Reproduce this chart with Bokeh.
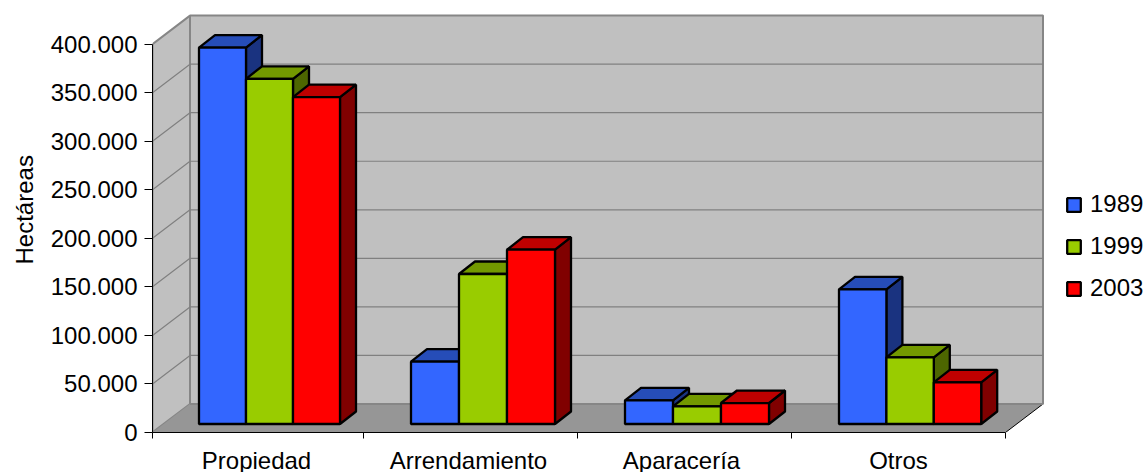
from bokeh.plotting import figure
from bokeh.embed import file_html
from bokeh.resources import INLINE
from bokeh.models import Range1d, FixedTicker, Legend, LegendItem, Title

categories = ["Propiedad", "Arrendamiento", "Aparacería", "Otros"]
series_names = ["1989", "1999", "2003"]
v1989 = [387700, 64200, 24400, 138700]
v1999 = [355500, 154500, 18200, 68700]
v2003 = [336600, 179500, 21600, 42900]
y_ticks = [0, 50000, 100000, 150000, 200000, 250000, 300000, 350000, 400000]
y_tick_labels = ["0", "50.000", "100.000", "150.000", "200.000", "250.000", "300.000", "350.000", "400.000"]

front_colors = ["#3366ff", "#99cc00", "#ff0000"]
top_colors = ["#264db8", "#739900", "#bf0000"]
side_colors = ["#1a3380", "#4d6600", "#800000"]

PX_X = 1 / 214.0
PX_Y = 400000 / 388.4
X_START = 3 * PX_X
FW, FH = 991, 420

x_end = X_START + FW * PX_X
y_end = FH * PX_Y
wall_dx, wall_dy = 37.5 * PX_X, 28.5 * PX_Y
front_right = 4.0
bar_dx, bar_dy = 16 * PX_X, 12.5 * PX_Y
base_y = 8.5 * PX_Y
group_off = [49.5 * PX_X, 47.5 * PX_X, 47.5 * PX_X, 47.5 * PX_X]
group_w = [47 * PX_X, 48 * PX_X, 48 * PX_X, 47.4 * PX_X]
label_nudge = [0, -2 * PX_X, -3 * PX_X, 0]
y_top = y_ticks[-1]

p = figure(width=1143, height=472, output_backend="svg", toolbar_location=None,
           x_range=Range1d(X_START, x_end), y_range=Range1d(0, y_end),
           frame_width=FW, frame_height=FH,
           min_border_left=152, min_border_right=0, min_border_top=12, min_border_bottom=40,
           outline_line_color=None, background_fill_color=None)
p.grid.visible = False

# walls and floor
wall_line = "#868686"
p.patch([X_START + wall_dx, front_right + wall_dx, front_right + wall_dx, X_START + wall_dx],
        [wall_dy, wall_dy, y_top + wall_dy, y_top + wall_dy],
        fill_color="#c0c0c0", line_color=wall_line, line_width=2)
p.patch([X_START, X_START + wall_dx, X_START + wall_dx, X_START],
        [0, wall_dy, y_top + wall_dy, y_top],
        fill_color="#c0c0c0", line_color=wall_line, line_width=2)
p.patch([X_START, front_right, front_right + wall_dx, X_START + wall_dx],
        [0, 0, wall_dy, wall_dy],
        fill_color="#969696", line_color=None)
p.line([front_right, front_right + wall_dx], [0, wall_dy], line_color="black", line_width=1)
p.line([X_START + wall_dx, front_right + wall_dx], [wall_dy, wall_dy], line_color=wall_line, line_width=2)

# gridlines on the walls
gx = [[X_START, X_START + wall_dx, front_right + wall_dx] for t in y_ticks[1:-1]]
gy = [[t, t + wall_dy, t + wall_dy] for t in y_ticks[1:-1]]
p.multi_line(gx, gy, line_color="#808080", line_width=1.2)

# bars
BAR_LW = 2.3
items = []
for s, vals in enumerate([v1989, v1999, v2003]):
    lefts = [i + group_off[i] + s * group_w[i] for i in range(len(vals))]
    rights = [l + group_w[i] for i, l in enumerate(lefts)]
    tops = [base_y + v for v in vals]
    bottoms = [base_y] * len(vals)
    side_x = [[r, r + bar_dx, r + bar_dx, r] for r in rights]
    side_y = [[base_y, base_y + bar_dy, t + bar_dy, t] for t in tops]
    top_x = [[l, l + bar_dx, r + bar_dx, r] for l, r in zip(lefts, rights)]
    top_y = [[t, t + bar_dy, t + bar_dy, t] for t in tops]
    p.patches(side_x, side_y, fill_color=side_colors[s], line_color="black", line_width=BAR_LW)
    p.patches(top_x, top_y, fill_color=top_colors[s], line_color="black", line_width=BAR_LW)
    r = p.quad(left=lefts, right=rights, bottom=bottoms, top=tops,
               fill_color=front_colors[s], line_color="black", line_width=BAR_LW)
    items.append(LegendItem(label=series_names[s], renderers=[r]))

# axes
FONT = "Liberation Sans"
SIZE = "24px"
ya = p.yaxis[0]
ya.ticker = FixedTicker(ticks=y_ticks)
ya.major_label_overrides = dict(zip(y_ticks, y_tick_labels))
ya.bounds = (0, y_top)
ya.major_tick_in = 0
ya.major_tick_out = 8
ya.minor_tick_line_color = None
ya.axis_line_color = "black"
ya.major_label_text_font = FONT
ya.major_label_text_font_size = SIZE
ya.major_label_text_color = "black"
ya.major_label_standoff = 7

p.add_layout(Title(text="Hectáreas", align="left", vertical_align="middle", offset=168, standoff=17,
                   text_font=FONT, text_font_size=SIZE, text_font_style="normal",
                   text_color="black"), "left")

label_pos = [i + 0.5 + label_nudge[i] for i in range(len(categories))]
xa = p.xaxis[0]
xa.ticker = FixedTicker(ticks=label_pos, minor_ticks=[X_START, 1, 2, 3, 4])
xa.major_label_overrides = dict(zip(label_pos, categories))
xa.bounds = (X_START, front_right)
xa.major_tick_line_color = None
xa.major_tick_in = 0
xa.major_tick_out = 6
xa.minor_tick_in = 0
xa.minor_tick_out = 6
xa.minor_tick_line_color = "black"
xa.axis_line_color = "black"
xa.major_label_text_font = FONT
xa.major_label_text_font_size = SIZE
xa.major_label_text_color = "black"
xa.major_label_standoff = 8

legend = Legend(items=items, location=(913, 130), orientation="vertical",
                background_fill_alpha=0, border_line_color=None,
                glyph_width=17, glyph_height=17, label_height=24, spacing=14,
                label_standoff=8, padding=0, margin=0,
                label_text_font=FONT, label_text_font_size=SIZE, label_text_color="black")
p.add_layout(legend, "center")

open("out.html", "w").write(file_html(p, INLINE))
